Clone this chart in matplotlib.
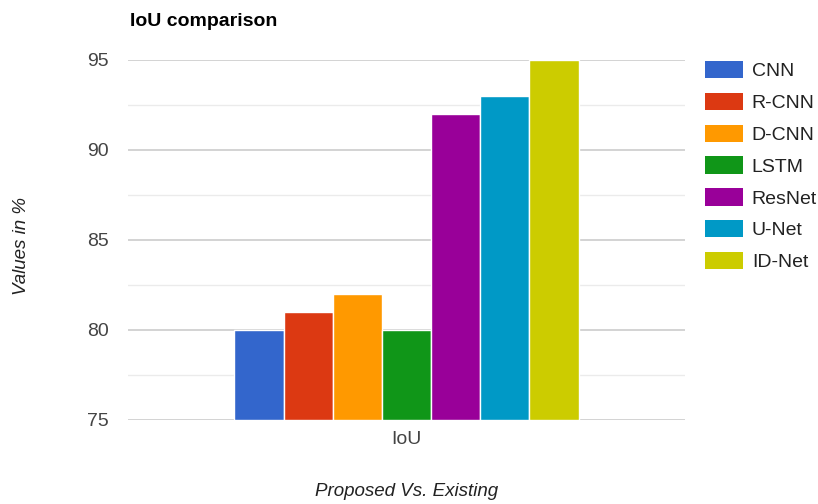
import matplotlib.pyplot as plt
from matplotlib.patches import Patch
import numpy as np

# data
models = ['CNN', 'R-CNN', 'D-CNN', 'LSTM', 'ResNet', 'U-Net', 'ID-Net']
iou_values = [80, 81, 82, 80, 92, 93, 95]
bar_colors = ['#3366cc', '#dc3912', '#ff9900', '#109618', '#990099', '#0099c6', '#cccc00']
category = 'IoU'
y_ticks = [75, 80, 85, 90, 95]

plt.rcParams['font.family'] = ['Liberation Sans', 'DejaVu Sans']

fig = plt.figure(figsize=(8.18, 5.04), dpi=100)
ax = fig.add_axes([128 / 818, 84 / 504, 557 / 818, 360 / 504])

# grouped bars share ~61.8% of the category slot (Google Charts default)
group_width = 0.618
n = len(models)
bw = group_width / n
xs = -group_width / 2 + bw * (np.arange(n) + 0.5)
for x, v, c in zip(xs, iou_values, bar_colors):
    ax.bar(x, v - 75, bottom=75, width=bw, color=c, edgecolor='white',
           linewidth=1.0, zorder=3)

ax.set_xlim(-0.5, 0.5)
ax.set_ylim(75, 95)
ax.set_yticks(y_ticks)
ax.set_yticks([77.5, 82.5, 87.5, 92.5], minor=True)
ax.set_xticks([0])
ax.set_xticklabels([category])

ax.grid(axis='y', which='major', color='#cccccc', linewidth=1.2, zorder=0)
ax.grid(axis='y', which='minor', color='#ebebeb', linewidth=1.0, zorder=0)
for s in ax.spines.values():
    s.set_visible(False)
ax.tick_params(axis='both', which='both', length=0, labelsize=14, colors='#444444')
ax.tick_params(axis='y', pad=13.5)
ax.tick_params(axis='x', pad=8)

fig.text(130 / 818, 1 - 26 / 504, 'IoU comparison', fontsize=14,
         fontweight='bold', color='black', va='baseline', ha='left')
fig.text(22 / 818, 1 - 246 / 504, 'Values in %', fontsize=13.5, style='italic',
         color='#222222', rotation=90, ha='center', va='center')
fig.text(407 / 818, 1 - 492 / 504, 'Proposed Vs. Existing', fontsize=13.5,
         style='italic', color='#222222', ha='center', va='center')

# legend: colour squares on the right
handles = [Patch(facecolor=c, edgecolor='none') for c in bar_colors]
leg = fig.legend(handles, models, loc='upper left', bbox_to_anchor=(705 / 818, 1 - 61 / 504),
                 frameon=False, fontsize=14, handlelength=1.96, handleheight=1.0,
                 handletextpad=0.45, labelspacing=0.64, borderpad=0, borderaxespad=0,
                 labelcolor='#222222')

fig.savefig('out.png', dpi=100)
